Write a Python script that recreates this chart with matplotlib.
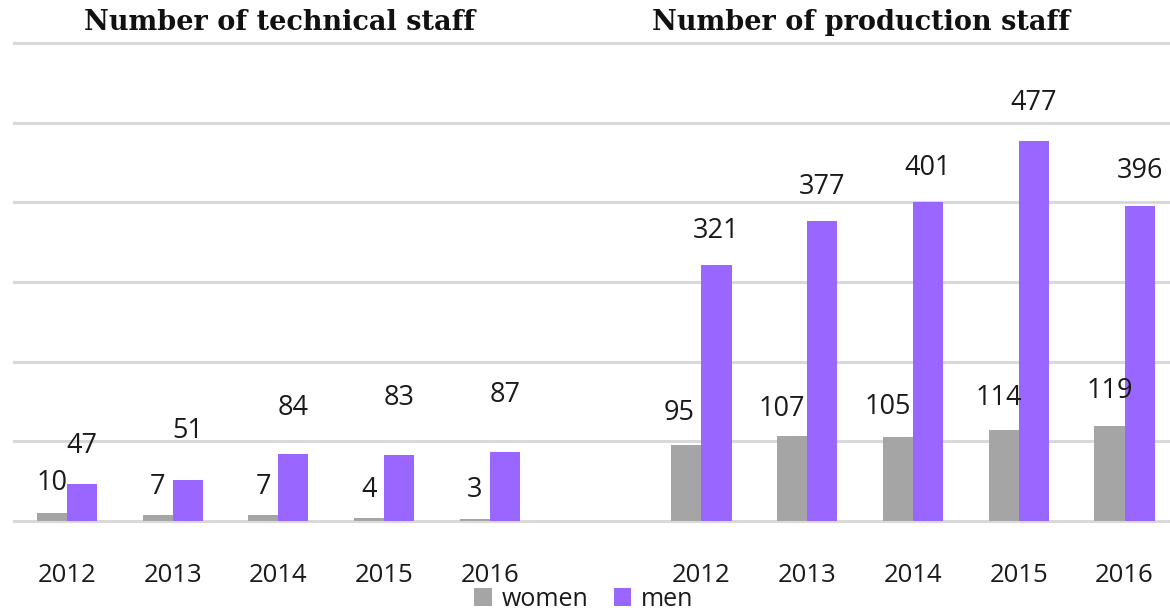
import numpy as np
import matplotlib
matplotlib.use("Agg")
import matplotlib.pyplot as plt

# data
years = ["2012", "2013", "2014", "2015", "2016"]
tech_women = [10, 7, 7, 4, 3]
tech_men = [47, 51, 84, 83, 87]
prod_women = [95, 107, 105, 114, 119]
prod_men = [321, 377, 401, 477, 396]

# colours
WOMEN_COL = "#A5A5A5"
MEN_COL = "#9966FF"
GRID_COL = "#D9D9D9"
TXT_COL = "#1A1A1A"

plt.rcParams["font.family"] = ["Open Sans", "DejaVu Sans"]

fig = plt.figure(figsize=(11.7, 6.1), dpi=100)
ax = fig.add_axes([14 / 1170, 89 / 610, 1 - 14 / 1170, (521 - 43) / 610])

# two groups with an empty slot between them
x_tech = np.arange(len(years))
x_prod = np.arange(len(years)) + len(years) + 1
w = 0.284

women = tech_women + prod_women
men = tech_men + prod_men
xs = np.concatenate([x_tech, x_prod])

ax.bar(xs - w / 2, women, width=w, color=WOMEN_COL, label="women", zorder=3)
ax.bar(xs + w / 2, men, width=w, color=MEN_COL, label="men", zorder=3)

# labels (Excel-like placement, floating above the bars)
px_per_unit = (521 - 43) / 600.0
women_gap = [30, 28, 28, 28, 29, 32, 27, 30, 32, 35]
men_gap = [38, 49, 46, 57, 57, 34, 34, 34, 38, 35]
women_dx = [0, 0, 0, 0, 0, -0.07, -0.1, -0.1, -0.05, 0]
for i, x in enumerate(xs):
    ax.text(x - w / 2 + women_dx[i], women[i] + women_gap[i] / px_per_unit, str(women[i]),
            ha="center", va="center", fontsize=19.5, color=TXT_COL, zorder=4)
    ax.text(x + w / 2, men[i] + men_gap[i] / px_per_unit, str(men[i]),
            ha="center", va="center", fontsize=19.5, color=TXT_COL, zorder=4)

ax.set_xlim(-0.5, 10.43)
ax.set_ylim(0, 600)
ax.set_yticks(np.arange(0, 601, 100))
ax.yaxis.grid(True, color=GRID_COL, linewidth=2.2, zorder=0)
for gl in ax.get_ygridlines():
    gl.set_clip_on(False)
ax.tick_params(axis="y", left=False, labelleft=False)
ax.set_xticks(xs)
ax.set_xticklabels(years + years, fontsize=18.5, color=TXT_COL)
ax.tick_params(axis="x", length=0, pad=30)
for s in ax.spines.values():
    s.set_visible(False)

fig.text(280 / 1170, 1 - 22 / 610, "Number of technical staff", ha="center", va="center",
         fontsize=19.5, fontweight="bold", family=["DejaVu Serif"], color="#111111")
fig.text(861 / 1170, 1 - 22 / 610, "Number of production staff", ha="center", va="center",
         fontsize=19.5, fontweight="bold", family=["DejaVu Serif"], color="#111111")

fig.legend(loc="center", bbox_to_anchor=(584 / 1170, 1 - 599 / 610), ncol=2, frameon=False,
           fontsize=18, handlelength=0.7, handleheight=0.7, handletextpad=0.4,
           columnspacing=1.0, borderpad=0, labelcolor=TXT_COL)

fig.savefig("out.png", dpi=100, facecolor="white")
